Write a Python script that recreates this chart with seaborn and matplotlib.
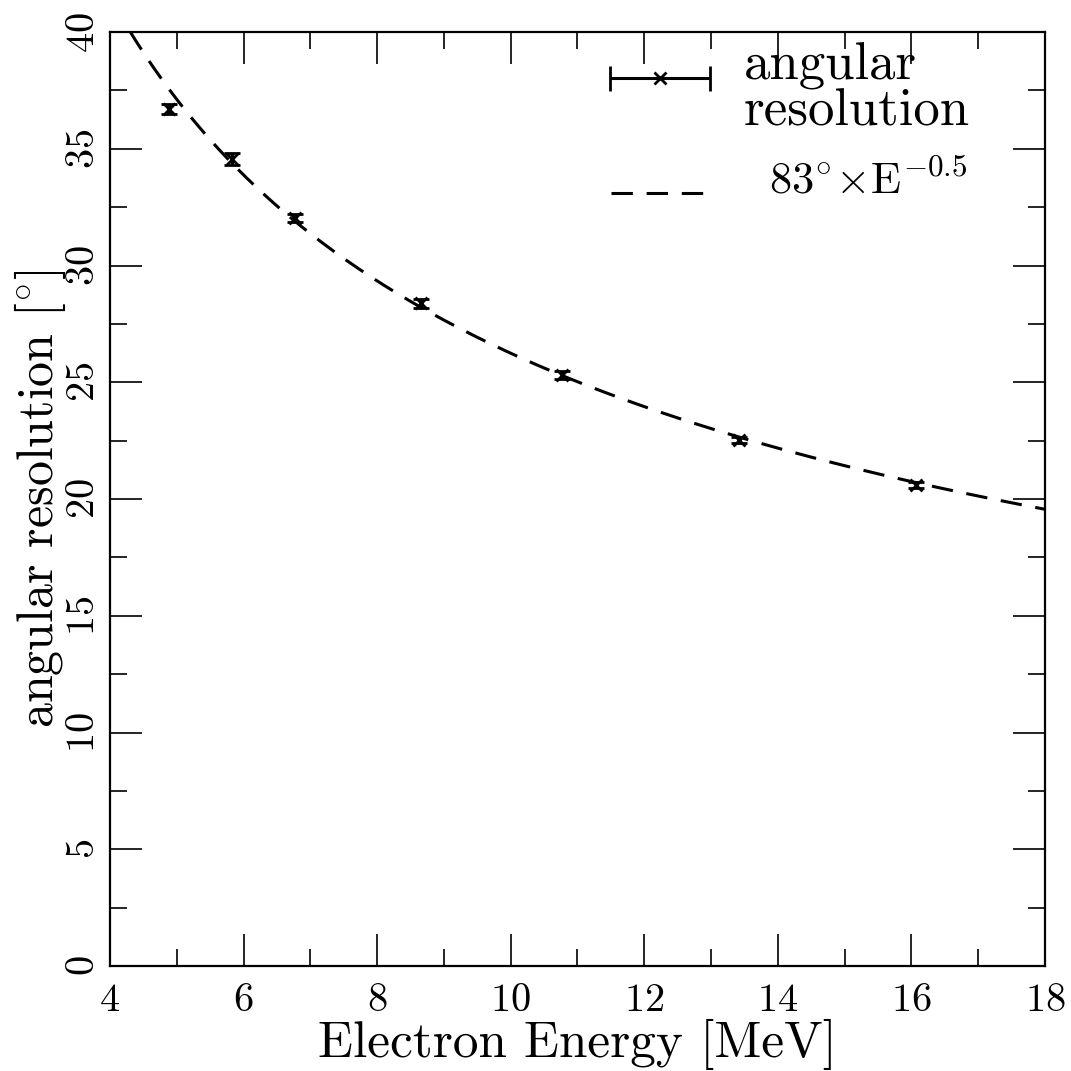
import matplotlib

matplotlib.use("Agg")
import matplotlib.pyplot as plt
import numpy as np
import pandas as pd
import seaborn as sns
from matplotlib.ticker import MultipleLocator

# measured angular resolution
energy = [4.88, 5.83, 6.77, 8.66, 10.77, 13.42, 16.07]
resolution = [36.70, 34.56, 32.03, 28.39, 25.31, 22.53, 20.60]
res_err = [0.22, 0.25, 0.18, 0.20, 0.18, 0.12, 0.12]

# fitted power law shown in the legend
fit_norm = 83.0
fit_index = -0.5
fit_e_min = 4.3
fit_e_max = 18.0

sns.set_style("ticks")
plt.rcParams["font.family"] = ["cmr10", "DejaVu Serif"]
plt.rcParams["mathtext.fontset"] = "cm"
plt.rcParams["axes.formatter.use_mathtext"] = True
for key in ["text.color", "axes.labelcolor", "xtick.color", "ytick.color",
            "axes.edgecolor"]:
    plt.rcParams[key] = "black"

fit_x = np.linspace(fit_e_min, fit_e_max, 300)
fit_df = pd.DataFrame({"E": fit_x, "res": fit_norm * fit_x ** fit_index})

fig = plt.figure(figsize=(10.71, 10.71), dpi=100)
ax = fig.add_axes([0.1027, 0.098, 0.873, 0.872])

sns.lineplot(data=fit_df, x="E", y="res", ax=ax, color="black",
             linewidth=2.2, dashes=False)
ax.lines[-1].set_dashes([7, 4.5])
ax.errorbar(energy, resolution, yerr=res_err, fmt="x", color="black",
            markersize=8, mew=2, elinewidth=2.5, capsize=6, capthick=2.5)

ax.set_xlim(4, 18)
ax.set_ylim(0, 40)
ax.xaxis.set_major_locator(MultipleLocator(2))
ax.xaxis.set_minor_locator(MultipleLocator(1))
ax.yaxis.set_major_locator(MultipleLocator(5))
ax.yaxis.set_minor_locator(MultipleLocator(2.5))
ax.tick_params(which="both", direction="in", top=True, right=True, width=1.2)
ax.tick_params(axis="x", labelsize=29, pad=12)
ax.tick_params(axis="y", labelsize=29, pad=6)
ax.tick_params(which="major", length=23)
ax.tick_params(which="minor", length=12)
for lbl in ax.get_yticklabels():
    lbl.set_rotation(90)
    lbl.set_va("center")
for s in ax.spines.values():
    s.set_linewidth(1.6)

ax.set_xlabel("Electron Energy [MeV]", fontsize=37, va="center")
ax.set_ylabel(r"angular resolution [$^{\circ}$]", fontsize=36, va="center")
ax.xaxis.set_label_coords(0.5, -0.084)
ax.yaxis.set_label_coords(-0.075, 0.5)

# legend drawn by hand in axes coordinates
ax.errorbar([0.588], [0.951], xerr=[0.0535], fmt="x", color="black",
            markersize=9, mew=2, elinewidth=2.2, capsize=9, capthick=2.2,
            transform=ax.transAxes, clip_on=False)
ax.text(0.678, 0.963, "angular", transform=ax.transAxes, fontsize=38,
        va="center", ha="left")
ax.text(0.678, 0.914, "resolution", transform=ax.transAxes, fontsize=38,
        va="center", ha="left")
ax.plot([0.5355, 0.635], [0.828, 0.828], color="black", linewidth=2.2,
        dashes=[7, 4.5], transform=ax.transAxes)
ax.text(0.705, 0.840, r"$83^{\circ}\!\times\!\mathrm{E}^{-0.5}$",
        transform=ax.transAxes, fontsize=32, va="center", ha="left")

fig.savefig("out.png", dpi=100)
